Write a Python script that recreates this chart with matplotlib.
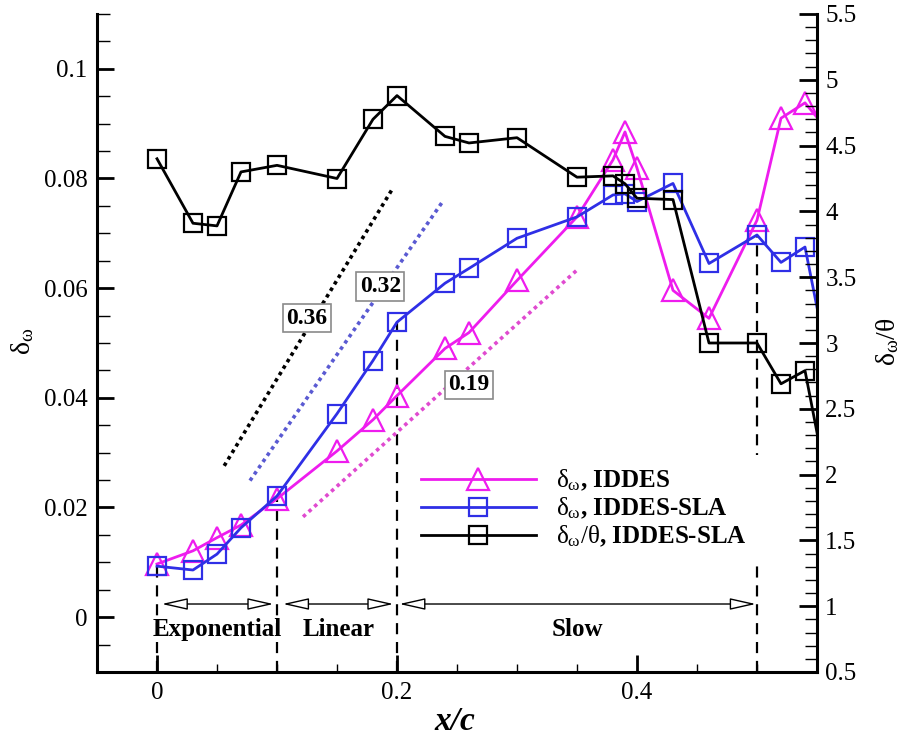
import matplotlib
matplotlib.use('Agg')
import matplotlib.pyplot as plt
from matplotlib.ticker import MultipleLocator, FormatStrFormatter
from matplotlib.lines import Line2D

plt.rcParams['font.family'] = ['Liberation Serif', 'DejaVu Serif']
plt.rcParams['mathtext.fontset'] = 'custom'
plt.rcParams['mathtext.rm'] = 'Liberation Serif'
plt.rcParams['mathtext.it'] = 'Liberation Serif:italic'
plt.rcParams['mathtext.bf'] = 'Liberation Serif:bold'

# streamwise stations x/c
x_c = [0, 0.03, 0.05, 0.07, 0.1, 0.15, 0.18, 0.2, 0.24, 0.26, 0.3, 0.35,
       0.38, 0.39, 0.4, 0.43, 0.46, 0.5, 0.52, 0.54, 0.56]
# vorticity thickness, IDDES
d_iddes = [0.0097, 0.0121, 0.0145, 0.0168, 0.0216, 0.0303, 0.0360, 0.0404,
           0.0490, 0.0519, 0.0614, 0.0730, 0.0834, 0.0885, 0.0819, 0.0596,
           0.0545, 0.0724, 0.0910, 0.0938, 0.0885]
# vorticity thickness, IDDES-SLA
d_sla = [0.0093, 0.0086, 0.0115, 0.0163, 0.0221, 0.0371, 0.0468, 0.0538,
         0.0609, 0.0636, 0.0691, 0.0730, 0.0770, 0.0772, 0.0758, 0.0791,
         0.0645, 0.0697, 0.0647, 0.0675, 0.0455]
# delta_w / theta, IDDES-SLA (right axis)
ratio_sla = [4.40, 3.91, 3.89, 4.30, 4.35, 4.25, 4.70, 4.88, 4.57, 4.52,
             4.56, 4.26, 4.27, 4.21, 4.10, 4.09, 3.00, 3.00, 2.69, 2.79, 1.85]

# growth rate fits (dotted lines)
fit_labels = ['0.36', '0.32', '0.19']
fit_x = [(0.056, 0.197), (0.0775, 0.239), (0.1217, 0.35)]
fit_y = [(0.0276, 0.0784), (0.0249, 0.0761), (0.0183, 0.0633)]
fit_lab_x = [0.125, 0.186, 0.26]
fit_lab_y = [0.0545, 0.0603, 0.0424]
fit_colors = ['black', '#5a5ad2', '#e04ad0']

# growth regimes
regime_names = ['Exponential', 'Linear', 'Slow']
regime_start = [0.004, 0.105, 0.202]
regime_end = [0.097, 0.197, 0.499]
regime_bounds = [0.0, 0.1, 0.2, 0.5]
arrow_y = 0.0024
regime_text_y = -0.0022

magenta = '#ee1cee'
blue = '#2f2fe6'

fig = plt.figure(figsize=(9.09, 7.38), dpi=100)
ax = fig.add_axes([97/909, 1 - 672/738, 720/909, 658/738])
ax2 = ax.twinx()

# dotted fit lines + boxed slopes
for (x0, x1), (y0, y1), c in zip(fit_x, fit_y, fit_colors):
    ax.plot([x0, x1], [y0, y1], color=c, lw=2.6, ls=(0, (1, 1.1)), zorder=2)
for lab, tx, ty in zip(fit_labels, fit_lab_x, fit_lab_y):
    ax.text(tx, ty, lab, ha='center', va='center', fontsize=17, fontweight='bold',
            bbox=dict(boxstyle='square,pad=0.15', fc='white', ec='#8a8a8a', lw=1.2),
            zorder=4)

# regime boundaries (dashed, up to the IDDES-SLA curve)
for b in regime_bounds:
    ytop = d_sla[x_c.index(b)]
    ax.plot([b, b], [-0.01, ytop], color='black', lw=1.6, ls=(0, (5, 3.5)), zorder=1)

for name, x0, x1 in zip(regime_names, regime_start, regime_end):
    ax.annotate('', xy=(x1, arrow_y), xytext=(x0, arrow_y),
                arrowprops=dict(arrowstyle='<|-|>,head_length=1.6,head_width=0.36',
                                mutation_scale=10, fc='white', ec='black', lw=1,
                                shrinkA=0, shrinkB=0))
    ax.text((x0 + x1) / 2, regime_text_y, name, ha='center', va='center',
            fontsize=18, fontweight='bold')

l1, = ax.plot(x_c, d_iddes, color=magenta, lw=2, marker='^', ms=16, mfc='none',
              mec=magenta, mew=1.6, zorder=3)
l2, = ax.plot(x_c, d_sla, color=blue, lw=2, marker='s', ms=13, mfc='none',
              mec=blue, mew=1.6, zorder=3)
l3, = ax2.plot(x_c, ratio_sla, color='black', lw=2, marker='s', ms=13, mfc='none',
               mec='black', mew=1.6, zorder=3)

ax.set_xlim(-0.05, 0.55)
ax.set_ylim(-0.01, 0.11)
ax2.set_ylim(0.5, 5.5)

ax.xaxis.set_major_locator(MultipleLocator(0.2))
ax.xaxis.set_minor_locator(MultipleLocator(0.05))
ax.yaxis.set_major_locator(MultipleLocator(0.02))
ax.yaxis.set_minor_locator(MultipleLocator(0.005))
ax2.yaxis.set_major_locator(MultipleLocator(0.5))
ax2.yaxis.set_minor_locator(MultipleLocator(0.1))
ax.xaxis.set_major_formatter(FormatStrFormatter('%g'))
ax.yaxis.set_major_formatter(FormatStrFormatter('%g'))
ax2.yaxis.set_major_formatter(FormatStrFormatter('%g'))
ax.set_yticks([0, 0.02, 0.04, 0.06, 0.08, 0.1])

for a in (ax, ax2):
    a.spines['top'].set_visible(False)
    for s in a.spines.values():
        s.set_linewidth(2.2)
ax.spines['right'].set_visible(False)
ax2.spines['left'].set_visible(False)
ax2.spines['bottom'].set_visible(False)

ax.tick_params(axis='both', which='major', direction='in', length=12, width=2,
               labelsize=18, pad=7, right=False, top=False)
ax.tick_params(axis='y', which='minor', direction='in', length=9, width=1, right=False)
ax.tick_params(axis='x', which='minor', direction='in', length=6, width=1, top=False)
ax2.tick_params(axis='y', which='major', direction='in', length=13, width=2,
                labelsize=18, pad=6)
ax2.tick_params(axis='y', which='minor', direction='in', length=9, width=1)

leg = ax2.legend([l1, l2, l3],
                 [r'$\mathrm{\delta_\omega}$, IDDES', r'$\mathrm{\delta_\omega}$, IDDES-SLA',
                  r'$\mathrm{\delta_\omega/\theta}$, IDDES-SLA'],
                 loc='center left', bbox_to_anchor=(0.432, 0.2485), borderaxespad=0,
                 prop={'family': 'Liberation Serif', 'weight': 'bold', 'size': 18},
                 handlelength=4.6, handletextpad=0.8, labelspacing=0.1,
                 borderpad=0.5, frameon=True, fancybox=False)
leg.get_frame().set_facecolor('white')
leg.get_frame().set_edgecolor('none')
leg.get_frame().set_alpha(1)

fig.text(23/909, 1 - 341/738, r'$\mathrm{\delta_\omega}$', rotation=90,
         ha='center', va='center', fontsize=20)
fig.text(888/909, 1 - 342/738, r'$\mathrm{\delta_\omega/\theta}$', rotation=90,
         ha='center', va='center', fontsize=20)
fig.text(455/909, 1 - 722/738, 'x/c', ha='center', va='center', fontsize=24,
         fontweight='bold', fontstyle='italic')

fig.savefig('out.png', dpi=100)
